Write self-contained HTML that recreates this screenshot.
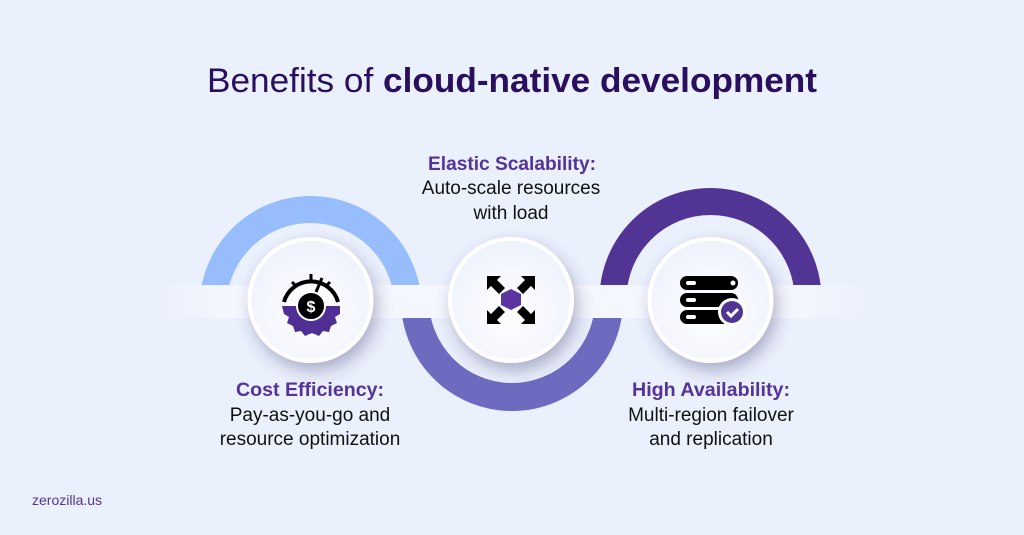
<!DOCTYPE html>
<html><head><meta charset="utf-8"><style>
html,body{margin:0;padding:0;background:#eaf0fc;}
svg{display:block}
text{font-family:"Liberation Sans",sans-serif;}
</style></head><body>
<svg width="1024" height="535" viewBox="0 0 1024 535" xmlns="http://www.w3.org/2000/svg">
<defs>
<linearGradient id="band" x1="0" x2="1" y1="0" y2="0">
<stop offset="0" stop-color="#f4f7fe" stop-opacity="0"/>
<stop offset="0.12" stop-color="#f4f7fe" stop-opacity="1"/>
<stop offset="0.88" stop-color="#f4f7fe" stop-opacity="1"/>
<stop offset="1" stop-color="#f4f7fe" stop-opacity="0"/>
</linearGradient>
<filter id="sh" x="-50%" y="-50%" width="200%" height="200%">
<feDropShadow dx="4" dy="8" stdDeviation="8" flood-color="#3a3070" flood-opacity="0.35"/>
</filter>
<radialGradient id="cg" cx="0.5" cy="0.6" r="0.6">
<stop offset="0" stop-color="#ffffff"/><stop offset="1" stop-color="#eef2fc"/>
</radialGradient>
<clipPath id="top"><rect x="0" y="0" width="1024" height="285"/></clipPath>
<clipPath id="bot"><rect x="0" y="318" width="1024" height="300"/></clipPath>
</defs>
<rect width="1024" height="535" fill="#eaf0fc"/>
<text x="512" y="92" text-anchor="middle" font-size="34" fill="#2a0f5e" textLength="610" lengthAdjust="spacingAndGlyphs"><tspan>Benefits of </tspan><tspan font-weight="bold">cloud-native development</tspan></text>

<!-- arcs -->
<circle cx="310.5" cy="307" r="97.5" fill="none" stroke="#98bdfc" stroke-width="27" clip-path="url(#top)"/>
<circle cx="710.5" cy="299" r="97.5" fill="none" stroke="#523494" stroke-width="27" clip-path="url(#top)"/>
<circle cx="512" cy="300" r="97" fill="none" stroke="#6d6bbf" stroke-width="28" clip-path="url(#bot)"/>
<rect x="150" y="285" width="724" height="33" fill="url(#band)"/>

<!-- circles -->
<g filter="url(#sh)">
<circle cx="310.5" cy="300" r="61" fill="url(#cg)" stroke="#fff" stroke-width="4"/>
<circle cx="511" cy="300" r="61" fill="url(#cg)" stroke="#fff" stroke-width="4"/>
<circle cx="710.5" cy="300" r="61" fill="url(#cg)" stroke="#fff" stroke-width="4"/>
</g>

<!-- cost icon -->
<g transform="translate(311,300)">
<path d="M-27,2 A28,28 0 0 1 27,2" fill="none" stroke="#000" stroke-width="4"/>
<line x1="0" y1="-26" x2="0" y2="-20" stroke="#000" stroke-width="3"/>
<line x1="-19" y1="-18" x2="-15" y2="-14" stroke="#000" stroke-width="3"/>
<line x1="19" y1="-18" x2="15" y2="-14" stroke="#000" stroke-width="3"/>
<path d="M-29,6 h58 v8 l-5,3 2,6 -6,3 -2,6 -6,-1 -4,5 -7,-3 -7,3 -4,-5 -6,1 -2,-6 -6,-3 2,-6 -5,-3 z" fill="#4f2f94"/>
<circle cx="0" cy="6" r="14" fill="#000" stroke="#fff" stroke-width="2"/>
<text x="0" y="12" text-anchor="middle" font-size="16" font-weight="bold" fill="#fff">$</text>
<line x1="5" y1="-8" x2="11" y2="-22" stroke="#000" stroke-width="3"/>
</g>

<!-- scale icon -->
<g transform="translate(511,300)" fill="#000">
<path d="M-24,-24 h14 l-4,4 8,8 -6,6 -8,-8 -4,4 z"/>
<path d="M24,-24 h-14 l4,4 -8,8 6,6 8,-8 4,4 z"/>
<path d="M-24,24 h14 l-4,-4 8,-8 -6,-6 -8,8 -4,-4 z"/>
<path d="M24,24 h-14 l4,-4 -8,-8 6,-6 8,8 4,-4 z"/>
<path d="M0,-11 l10,5 v11 l-10,5 -10,-5 v-11 z" fill="#5a35a0"/>
</g>

<!-- server icon -->
<g transform="translate(710,300)">
<rect x="-30" y="-24" width="58" height="14" rx="7" fill="#000"/>
<rect x="-30" y="-7" width="58" height="14" rx="7" fill="#000"/>
<rect x="-30" y="10" width="58" height="14" rx="7" fill="#000"/>
<rect x="-24" y="-19" width="10" height="4" rx="2" fill="#fff"/>
<rect x="-24" y="-2" width="10" height="4" rx="2" fill="#fff"/>
<rect x="-24" y="15" width="10" height="4" rx="2" fill="#fff"/>
<circle cx="23" cy="-17" r="2.5" fill="#fff"/>
<circle cx="22" cy="12" r="14" fill="#fff"/>
<circle cx="22" cy="12" r="11" fill="#523494"/>
<path d="M17,12 l4,4 7,-7" fill="none" stroke="#fff" stroke-width="3"/>
</g>

<!-- labels -->
<g text-anchor="middle" font-size="19">
<text x="512" y="170" font-weight="bold" fill="#553399" textLength="168" lengthAdjust="spacingAndGlyphs">Elastic Scalability:</text>
<text x="511" y="194" fill="#111">Auto-scale resources</text>
<text x="511" y="219" fill="#111">with load</text>
<text x="310" y="396" font-weight="bold" fill="#553399" textLength="148" lengthAdjust="spacingAndGlyphs">Cost Efficiency:</text>
<text x="310" y="421" fill="#111">Pay-as-you-go and</text>
<text x="310" y="445" fill="#111">resource optimization</text>
<text x="711" y="396" font-weight="bold" fill="#553399" textLength="158" lengthAdjust="spacingAndGlyphs">High Availability:</text>
<text x="711" y="421" fill="#111">Multi-region failover</text>
<text x="711" y="445" fill="#111">and replication</text>
</g>
<text x="32" y="505" font-size="14" fill="#553399">zerozilla.us</text>
</svg>
</body></html>
